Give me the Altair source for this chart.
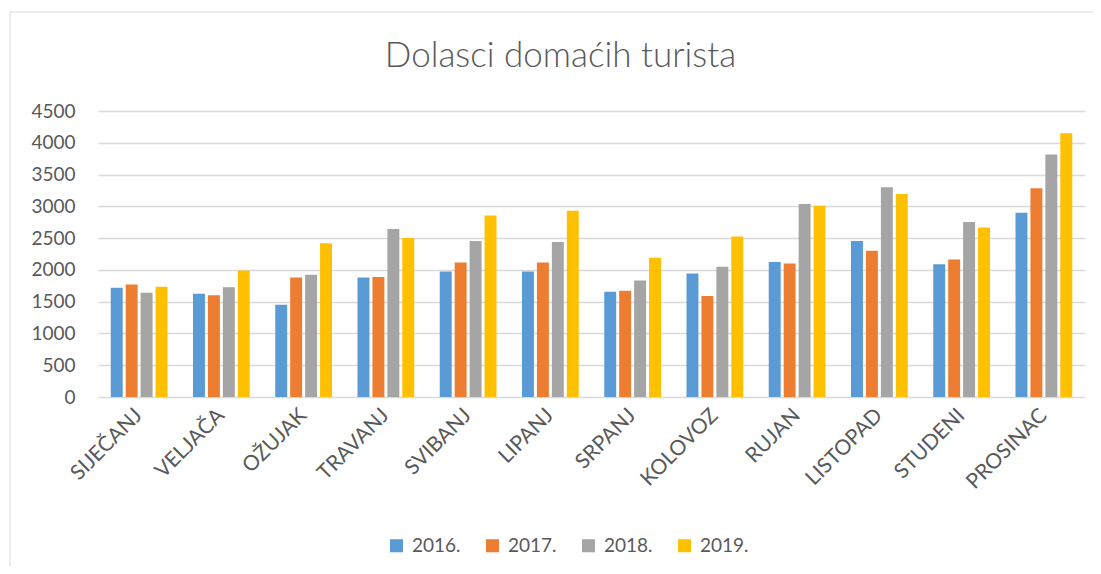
import altair as alt
import pandas as pd

months = ["SIJEČANJ", "VELJAČA", "OŽUJAK", "TRAVANJ", "SVIBANJ", "LIPANJ",
          "SRPANJ", "KOLOVOZ", "RUJAN", "LISTOPAD", "STUDENI", "PROSINAC"]
years = ["2016.", "2017.", "2018.", "2019."]
v2016 = [1720, 1625, 1450, 1880, 1975, 1975, 1655, 1945, 2125, 2455, 2090, 2900]
v2017 = [1770, 1600, 1880, 1890, 2115, 2115, 1670, 1590, 2100, 2300, 2165, 3285]
v2018 = [1640, 1725, 1925, 2645, 2455, 2440, 1835, 2050, 3035, 3300, 2755, 3815]
v2019 = [1735, 1990, 2420, 2500, 2855, 2930, 2190, 2525, 3010, 3195, 2665, 4150]
colors = ["#5B9BD5", "#ED7D31", "#A5A5A5", "#FFC000"]

rows = []
for yr, vals in zip(years, [v2016, v2017, v2018, v2019]):
    for m, v in zip(months, vals):
        rows.append({"mjesec": m, "godina": yr, "dolasci": v})
df = pd.DataFrame(rows)

FONT = "Lato"
TXT = "#595959"

bars = alt.Chart(df).mark_bar().encode(
    x=alt.X("mjesec:N", sort=months,
            scale=alt.Scale(paddingInner=0.31, paddingOuter=0.155),
            axis=alt.Axis(title=None, labelAngle=-45, labelAlign="right",
                          labelBaseline="middle", labelFontSize=21,
                          labelColor=TXT, labelFont=FONT, ticks=False,
                          domain=False, labelPadding=15)),
    xOffset=alt.XOffset("godina:N", sort=years, scale=alt.Scale(paddingInner=0.2)),
    y=alt.Y("dolasci:Q", scale=alt.Scale(domain=[0, 4500]),
            axis=alt.Axis(title=None, values=list(range(0, 4501, 500)), format="d",
                          domain=False, ticks=False, gridColor="#d9d9d9",
                          gridWidth=1.5, labelFontSize=19, labelColor=TXT,
                          labelFont=FONT, labelPadding=23)),
    color=alt.Color("godina:N", sort=years,
                    scale=alt.Scale(domain=years, range=colors),
                    legend=alt.Legend(title=None, orient="none", direction="horizontal",
                                      legendX=289, legendY=425,
                                      symbolType="square", symbolSize=170,
                                      symbolStrokeWidth=0,
                                      labelFontSize=19, labelColor=TXT,
                                      labelFont=FONT, columnPadding=22,
                                      labelOffset=6)),
)

border = alt.Chart(alt.Data(values=[{}])).mark_rect(
    fill=None, stroke="#d9d9d9", strokeWidth=1
).encode(x=alt.value(-88), x2=alt.value(1020), y=alt.value(-99), y2=alt.value(500))

chart = alt.layer(border, bars).properties(
    width=987, height=286,
    title=alt.TitleParams("Dolasci domaćih turista", fontSize=35, font=FONT,
                          fontWeight=300, color=TXT, anchor="middle",
                          dx=-31, offset=-62),
    autosize=alt.AutoSizeParams(type="none"),
    padding={"left": 90, "top": 103, "right": 8, "bottom": 169},
).configure_view(stroke=None)

chart.save("out.html", embed_options={"renderer": "svg", "actions": False})
